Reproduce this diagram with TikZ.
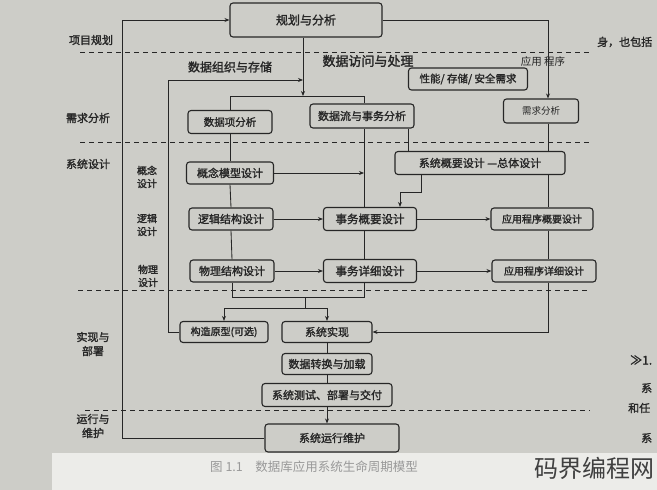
\documentclass[tikz,border=0pt]{standalone}
\usepackage{fontspec}
\setmainfont{Noto Sans CJK SC}[AutoFakeBold=1.6]
\usetikzlibrary{arrows.meta}
\definecolor{paper}{RGB}{205,205,200}
\definecolor{strip}{RGB}{236,236,233}
\definecolor{ink}{RGB}{38,38,38}
\begin{document}
\begin{tikzpicture}[x=1pt,y=-1pt,
  box/.style={draw=ink, line width=1.1pt, rounded corners=3pt, fill=paper, inner sep=0pt, text=ink, align=center},
  fs/.style={font=\fontsize{#1}{#1}\selectfont\bfseries},
  lbl/.style={text=ink, inner sep=0pt, align=center},
  conn/.style={draw=ink, line width=0.85pt},
  arr/.style={conn, -{Stealth[length=5pt,width=4pt]}},
  sep/.style={draw=ink, line width=1pt, dash pattern=on 5pt off 4pt},
]
\fill[paper] (0,0) rectangle (657,490);
\useasboundingbox (0,0) rectangle (657,490);

% column coordinates
\coordinate (rc) at (548,0);
\coordinate (mc) at (364,0);
\coordinate (tc) at (303,0);
\coordinate (lc) at (168,0);
\coordinate (oc) at (122,0);
\coordinate (jx) at (305,0);
\coordinate (x408) at (408,0);
\coordinate (x421) at (421,0);
\coordinate (x400) at (400,0);
\coordinate (h80) at (0,80);
\coordinate (h96) at (0,96);
\coordinate (h192) at (0,192);
\coordinate (h297) at (0,297);
\coordinate (h308) at (0,308);

% phase separators
\draw[sep] (80,52) -- (590,52);
\draw[sep] (80,142) -- (590,142);
\draw[sep] (78,290) -- (590,290);
\draw[sep] (85,410) -- (590,410);

% phase labels
\node[lbl, fs=11] (lp1) at (91,40) {项目规划};
\node[lbl, fs=11] (lp2) at (88,118) {需求分析};
\node[lbl, fs=11] (lp3) at (88,164) {系统设计};
\node[lbl, font=\fontsize{10}{13}\selectfont\bfseries] (ls1) at (147,177) {概念\\设计};
\node[lbl, font=\fontsize{10}{13}\selectfont\bfseries] (ls2) at (147,225) {逻辑\\设计};
\node[lbl, font=\fontsize{10}{13}\selectfont\bfseries] (ls3) at (148,276) {物理\\设计};
\node[lbl, font=\fontsize{11}{14}\selectfont\bfseries] (lp4) at (93,344) {实现与\\部署};
\node[lbl, font=\fontsize{11}{14}\selectfont\bfseries] (lp5) at (93,426) {运行与\\维护};

% stream labels
\node[lbl, fs=12] (ts1) at (230,67) {数据组织与存储};
\node[lbl, fs=13] (ts2) at (368,61) {数据访问与处理};
\node[lbl, font=\fontsize{10.5}{10.5}\selectfont] (ts3) at (543,62) {应用\ 程序};

% boxes
\node[box, fs=12, minimum width=152pt, minimum height=34pt] (plan) at (306,20) {规划与分析};
\node[box, fs=10.5, minimum width=119pt, minimum height=22pt] (perf) at (468,79) {性能/ 存储/ 安全需求};
\node[box, fs=10.5, minimum width=84pt, minimum height=23pt] (dataitem) at (230,122) {数据项分析};
\node[box, fs=11, minimum width=104pt, minimum height=24pt] (dataflow) at (362,116) {数据流与事务分析};
\node[box, font=\fontsize{9.5}{9.5}\selectfont, minimum width=75pt, minimum height=24pt] (req) at (541,111) {需求分析};
\node[box, fs=11, minimum width=170pt, minimum height=23pt] (sysov) at (480,163) {系统概要设计 —总体设计};
\node[box, fs=11, minimum width=87pt, minimum height=22pt] (concept) at (230,173) {概念模型设计};
\node[box, fs=11, minimum width=84pt, minimum height=22pt] (logic) at (231,219) {逻辑结构设计};
\node[box, fs=11.5, minimum width=93pt, minimum height=23pt] (txov) at (370,219) {事务概要设计};
\node[box, fs=10, minimum width=102pt, minimum height=22pt] (appov) at (542,219) {应用程序概要设计};
\node[box, fs=11, minimum width=84pt, minimum height=22pt] (phys) at (232,271) {物理结构设计};
\node[box, fs=11.5, minimum width=93pt, minimum height=23pt] (txdet) at (370,271) {事务详细设计};
\node[box, fs=10, minimum width=104pt, minimum height=22pt] (appdet) at (544,271) {应用程序详细设计};
\node[box, fs=10, minimum width=88pt, minimum height=21pt] (proto) at (224,332) {构造原型(可选)};
\node[box, fs=11, minimum width=90pt, minimum height=21pt] (impl) at (327,332) {系统实现};
\node[box, fs=11, minimum width=90pt, minimum height=21pt] (conv) at (327,364) {数据转换与加载};
\node[box, fs=11, minimum width=130pt, minimum height=23pt] (test) at (327,395) {系统测试、部署与交付};
\node[box, fs=11, minimum width=134pt, minimum height=28pt] (maint) at (332,438) {系统运行维护};

% outer loops
\draw[arr] (maint.west) -| (oc |- plan.west) -- (plan.west);
\draw[arr] (plan.east) -| (req.north -| rc);
\draw[arr] (proto.west) -| (lc |- h80) -- (h80 -| tc);

% planning trunk
\draw[arr] (plan.south -| tc) -- (h96 -| tc);
\draw[conn] (dataitem.north) |- (h96 -| mc) -- (dataflow.north -| mc);

% data column
\draw[conn] (dataitem.south) -- (concept.north);
\draw[conn] (concept.south) -- (logic.north);
\draw[conn] (logic.south) -- (phys.north);
\draw[conn] (phys.south) |- (h297 -| mc) -- (txdet.south -| mc);
\draw[conn] (h297 -| jx) -- (h308 -| jx);
\draw[arr] (h308 -| jx) -| (proto.north);
\draw[arr] (h308 -| jx) -| (impl.north);

% processing column
\draw[conn] (dataflow.south -| mc) -- (txov.north -| mc);
\draw[arr] (concept.east) -- (concept.east -| mc);
\draw[conn] (dataflow.south -| x408) -- (sysov.north -| x408);
\draw[arr] (sysov.south -| x421) |- (h192 -| x400) -- (txov.north -| x400);
\draw[arr] (logic.east) -- (txov.west);
\draw[arr] (phys.east) -- (txdet.west);
\draw[arr] (txov.east) -- (appov.west);
\draw[arr] (txdet.east) -- (appdet.west);
\draw[conn] (txov.south -| mc) -- (txdet.north -| mc);

% application column
\draw[conn] (req.south -| rc) -- (sysov.north -| rc);
\draw[conn] (sysov.south -| rc) -- (appov.north -| rc);
\draw[conn] (appov.south -| rc) -- (appdet.north -| rc);
\draw[arr] (appdet.south -| rc) |- (impl.east);

% implementation chain
\draw[conn] (impl.south) -- (conv.north);
\draw[conn] (conv.south) -- (test.north);
\draw[arr] (test.south) -- (test.south |- maint.north);

% neighbouring page fragments
\node[lbl, fs=11, anchor=west] (fr1) at (597,42) {身，也包括};
\node[lbl, fs=12, anchor=west] (fr2) at (630,360) {≫1.};
\node[lbl, fs=11, anchor=west] (fr3) at (641,388) {系};
\node[lbl, fs=11, anchor=west] (fr4) at (628,408) {和任};
\node[lbl, fs=11, anchor=west] (fr5) at (641,438) {系};

% caption strip
\fill[strip] (52,453) rectangle (657,490);
\node[lbl, font=\fontsize{12.5}{12.5}\selectfont, text=black!40, anchor=west] (cap) at (210,467) {图 1.1\quad 数据库应用系统生命周期模型};
\node[lbl, font=\fontsize{24}{24}\selectfont, text=black!75, anchor=east] (wm) at (655,468) {码界编程网};
\end{tikzpicture}
\end{document}
